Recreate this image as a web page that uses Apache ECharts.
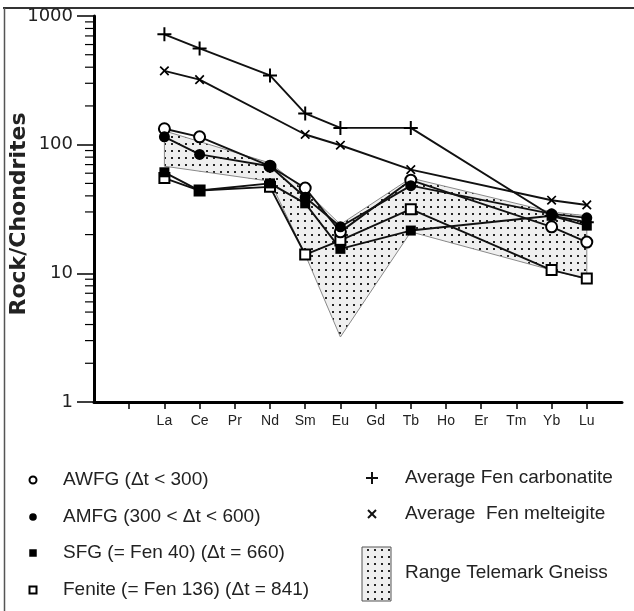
<!DOCTYPE html>
<html>
<head>
<meta charset="utf-8">
<script src="https://cdn.jsdelivr.net/npm/echarts@6/dist/echarts.min.js"></script>
<style>
html, body { margin: 0; padding: 0; background: #fff; }
#chart { width: 634px; height: 611px; }
</style>
</head>
<body>
<div id="chart"></div>
<script>
// Rare earth elements along the x axis (slot 0 is the y axis, slot 1 an unlabelled tick)
const elements = ['La', 'Ce', 'Pr', 'Nd', 'Sm', 'Eu', 'Gd', 'Tb', 'Ho', 'Er', 'Tm', 'Yb', 'Lu'];
const firstSlot = 2;
const tickSlots = [1, 2, 3, 4, 5, 6, 7, 8, 9, 10, 11, 12, 13, 14];

// Chondrite-normalised abundances, one value per element (null = not analysed)
const carbonatite = [720, 560, null, 345, 175, 135, null, 135, null, null, null, 28, 25];
const melteigite  = [375, 320, null, null, 120, 99, null, 64, null, null, null, 37, 34];
const awfg        = [133, 115, null, 68, 46, 21, null, 53, null, null, null, 23, 17.5];
const amfg        = [115, 84, null, 68, 39, 23, null, 48, null, null, null, 29, 27];
const sfg         = [61, 44, null, 50, 35, 15.5, null, 21.5, null, null, null, 28, 23.5];
const fenite      = [55, 44, null, 47, 14, 18, null, 31.5, null, null, null, 10.6, 9.1];

// Envelope of the Telemark gneiss samples
const telemarkUpper = [128, null, null, 72, 44, 24, null, 55, null, null, null, 30, 28];
const telemarkLower = [68, null, null, 52, 14, 3.2, null, 21, null, null, null, 10.6, 9];

// Log axis ticks
const majorTicks = [1, 10, 100, 1000];
const minorTicks = [2, 3, 4, 5, 6, 7, 8, 9, 20, 30, 40, 50, 60, 70, 80, 90, 200, 300, 400, 500, 600, 700, 800, 900];

const names = {
  awfg: 'AWFG (\u0394t < 300)',
  amfg: 'AMFG (300 < \u0394t < 600)',
  sfg: 'SFG (= Fen 40) (\u0394t = 660)',
  fenite: 'Fenite (= Fen 136) (\u0394t = 841)',
  carbonatite: 'Average Fen carbonatite',
  melteigite: 'Average  Fen melteigite',
  telemark: 'Range Telemark Gneiss'
};

function toPoints(values) {
  const out = [];
  values.forEach((v, i) => { if (v != null) out.push([firstSlot + i, v]); });
  return out;
}

// Stippled fill for the gneiss envelope
const stipple = document.createElement('canvas');
stipple.width = 7; stipple.height = 7;
(function () {
  const c = stipple.getContext('2d');
  c.fillStyle = '#efefef'; c.fillRect(0, 0, 7, 7);
  c.fillStyle = '#262626'; c.fillRect(3, 3, 2, 2);
})();
const stippleFill = { image: stipple, repeat: 'repeat' };

const plusPath = 'path://M6,0h2v6h6v2h-6v6h-2v-6h-6v-2h6z';
const font = 'Liberation Sans, Arial, sans-serif';

function lineSeries(name, values, symbol, size, fill, extra) {
  return Object.assign({
    name: name,
    type: 'line',
    data: toPoints(values),
    symbol: symbol,
    symbolSize: size,
    showSymbol: true,
    lineStyle: { color: '#111', width: 1.9 },
    itemStyle: { color: fill, borderColor: '#000', borderWidth: fill === '#fff' ? 2 : 0 },
    emphasis: { disabled: true },
    animation: false,
    z: 3
  }, extra || {});
}

const chart = echarts.init(document.getElementById('chart'), null, { renderer: 'canvas' });

const legendRowsLeft = [
  { name: names.awfg, y: 480, shape: 'circle', fill: '#fff' },
  { name: names.amfg, y: 517, shape: 'circle', fill: '#000' },
  { name: names.sfg, y: 553, shape: 'rect', fill: '#000' },
  { name: names.fenite, y: 590, shape: 'rect', fill: '#fff' }
];

const graphics = [
  // frame
  { type: 'line', shape: { x1: 3, y1: 8, x2: 634, y2: 8 }, style: { stroke: '#333', lineWidth: 2 } },
  { type: 'line', shape: { x1: 4.5, y1: 8, x2: 4.5, y2: 611 }, style: { stroke: '#555', lineWidth: 1.5 } }
];

legendRowsLeft.forEach(r => {
  const open = r.fill === '#fff';
  if (r.shape === 'circle') {
    graphics.push({ type: 'circle', shape: { cx: 33, cy: r.y, r: open ? 3.5 : 3.8 },
      style: { fill: r.fill, stroke: '#000', lineWidth: open ? 2 : 0 } });
  } else {
    const s = open ? 7 : 7.5;
    graphics.push({ type: 'rect', shape: { x: 33 - s / 2, y: r.y - s / 2, width: s, height: s },
      style: { fill: r.fill, stroke: '#000', lineWidth: open ? 2 : 0 } });
  }
  graphics.push({ type: 'text', x: 63, y: r.y, style: { text: r.name, fill: '#222', font: '19px ' + font, verticalAlign: 'middle' } });
});

// plus marker
graphics.push({ type: 'line', shape: { x1: 366, y1: 478, x2: 378, y2: 478 }, style: { stroke: '#111', lineWidth: 2 } });
graphics.push({ type: 'line', shape: { x1: 372, y1: 472, x2: 372, y2: 484 }, style: { stroke: '#111', lineWidth: 2 } });
graphics.push({ type: 'text', x: 405, y: 478, style: { text: names.carbonatite, fill: '#222', font: '19px ' + font, verticalAlign: 'middle' } });
// cross marker
graphics.push({ type: 'line', shape: { x1: 368, y1: 510, x2: 376, y2: 518 }, style: { stroke: '#111', lineWidth: 2 } });
graphics.push({ type: 'line', shape: { x1: 376, y1: 510, x2: 368, y2: 518 }, style: { stroke: '#111', lineWidth: 2 } });
graphics.push({ type: 'text', x: 405, y: 514, style: { text: names.melteigite, fill: '#222', font: '19px ' + font, verticalAlign: 'middle' } });
// stippled box
graphics.push({ type: 'rect', shape: { x: 362, y: 547, width: 29, height: 54 }, style: { fill: stippleFill, stroke: '#555', lineWidth: 1 } });
graphics.push({ type: 'text', x: 405, y: 573, style: { text: names.telemark, fill: '#222', font: '19px ' + font, verticalAlign: 'middle' } });

const option = {
  backgroundColor: '#fff',
  animation: false,
  grid: { left: 94, top: 16, right: 12, bottom: 209, containLabel: false, outerBoundsMode: 'none' },
  xAxis: {
    type: 'value',
    min: 0,
    max: 15,
    interval: 1,
    axisLine: { show: true, onZero: false, lineStyle: { color: '#000', width: 3 } },
    axisTick: { show: true, length: 7, customValues: tickSlots, lineStyle: { color: '#000', width: 1.5 } },
    axisLabel: {
      customValues: elements.map((e, i) => firstSlot + i),
      formatter: v => elements[v - firstSlot] || '',
      margin: 12,
      fontSize: 14,
      fontFamily: font,
      color: '#222'
    },
    splitLine: { show: false }
  },
  yAxis: {
    type: 'log',
    logBase: 10,
    min: 1,
    max: 1000,
    position: 'left',
    name: 'Rock/Chondrites',
    nameLocation: 'middle',
    nameRotate: 90,
    nameGap: 64,
    nameMoveOverlap: false,
    nameTextStyle: { fontSize: 22, fontWeight: 'bold', fontFamily: 'DejaVu Sans', color: '#222', padding: [0, 10, 0, 0] },
    axisLine: { show: true, onZero: false, lineStyle: { color: '#000', width: 3 } },
    axisTick: { show: true, length: 17, lineStyle: { color: '#000', width: 1.5 } },
    axisLabel: {
      formatter: v => String(v),
      margin: 21,
      fontSize: 18,
      fontFamily: 'DejaVu Sans',
      color: '#222'
    },
    splitLine: { show: false }
  },
  series: [
    {
      // minor ticks of the log axis, placed through the axis scale
      name: 'minor ticks',
      type: 'custom',
      data: minorTicks.map(v => [0, v]),
      z: 4,
      silent: true,
      clip: false,
      renderItem: function (params, api) {
        const p = api.coord([0, api.value(1)]);
        return {
          type: 'line',
          shape: { x1: p[0] - 9, y1: p[1], x2: p[0], y2: p[1] },
          style: { stroke: '#000', lineWidth: 1.2 }
        };
      }
    },
    {
      name: names.telemark,
      type: 'custom',
      data: [[firstSlot, 1]],
      z: 1,
      silent: true,
      renderItem: function (params, api) {
        const pts = [];
        telemarkUpper.forEach((v, i) => { if (v != null) pts.push(api.coord([firstSlot + i, v])); });
        for (let i = telemarkLower.length - 1; i >= 0; i--) {
          if (telemarkLower[i] != null) pts.push(api.coord([firstSlot + i, telemarkLower[i]]));
        }
        return {
          type: 'polygon',
          shape: { points: pts },
          style: { fill: stippleFill, stroke: '#8a8a8a', lineWidth: 1 }
        };
      }
    },
    lineSeries(names.carbonatite, carbonatite, plusPath, 14, '#000'),
    lineSeries(names.melteigite, melteigite, plusPath, 12, '#000', { symbolRotate: 45 }),
    lineSeries(names.fenite, fenite, 'rect', 10, '#fff'),
    lineSeries(names.sfg, sfg, 'rect', 10, '#000'),
    lineSeries(names.awfg, awfg, 'circle', 11, '#fff'),
    lineSeries(names.amfg, amfg, 'circle', 11, '#000')
  ],
  graphic: graphics
};

chart.setOption(option);
</script>
</body>
</html>
